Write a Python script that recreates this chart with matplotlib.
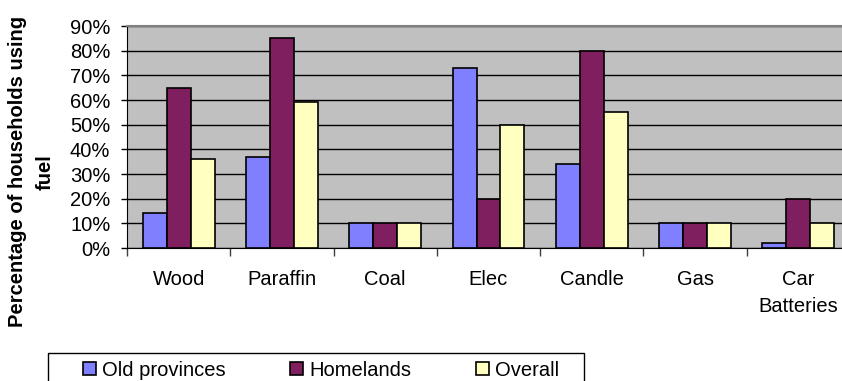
import numpy as np
import matplotlib
matplotlib.use('Agg')
import matplotlib.pyplot as plt
from matplotlib.patches import Rectangle
from matplotlib.ticker import PercentFormatter

plt.rcParams['font.family'] = ['Liberation Sans', 'DejaVu Sans']

fuels = ['Wood', 'Paraffin', 'Coal', 'Elec', 'Candle', 'Gas', 'Car\nBatteries']
old_provinces = [14, 37, 10, 73, 34, 10, 2]
homelands = [65, 85, 10, 20, 80, 10, 20]
overall = [36, 59, 10, 50, 55, 10, 10]

series_names = ['Old provinces', 'Homelands', 'Overall']
series_colors = ['#8080FF', '#7F1F5F', '#FFFFC0']

W, H = 842, 381
fig = plt.figure(figsize=(W / 100, H / 100), dpi=100)
ax = fig.add_axes([127 / W, 1 - 248 / H, 723 / W, 222 / H])
ax.set_facecolor('#C0C0C0')

x = np.arange(len(fuels))
w = 0.232
for i, (vals, name, col) in enumerate(zip([old_provinces, homelands, overall], series_names, series_colors)):
    ax.bar(x + (i - 1) * w, vals, width=w, color=col, edgecolor='black',
           linewidth=1.2, label=name, zorder=3)

ax.set_xlim(-0.5, len(fuels) - 0.5)
ax.set_ylim(0, 90)
ax.set_yticks(np.arange(0, 91, 10))
ax.yaxis.set_major_formatter(PercentFormatter(decimals=0))
ax.yaxis.grid(True, color='black', linewidth=1.0, zorder=1)
ax.set_axisbelow(True)

# category separators as major ticks, names on minor ticks
ax.set_xticks(np.arange(-0.5, len(fuels), 1.0))
ax.set_xticklabels([])
ax.set_xticks(x, minor=True)
ax.set_xticklabels(fuels, minor=True, fontsize=14.5, linespacing=1.55)
ax.tick_params(axis='x', which='major', direction='out', length=6, width=1, color='#404040')
ax.tick_params(axis='x', which='minor', length=0, pad=16)
ax.tick_params(axis='y', direction='out', length=4, width=1, labelsize=14.5, pad=8)

ax.spines['top'].set_color('#808080')
ax.spines['top'].set_linewidth(1.5)
ax.spines['right'].set_visible(False)
ax.spines['left'].set_color('black')
ax.spines['bottom'].set_color('black')

fig.text(18 / W, 1 - 171 / H, 'Percentage of households using', rotation=90,
         ha='center', va='center', fontsize=14.5, fontweight='bold')
fig.text(45 / W, 1 - 172 / H, 'fuel', rotation=90,
         ha='center', va='center', fontsize=14.5, fontweight='bold')

# legend box running off the bottom edge
fig.patches.append(Rectangle((48 / W, -0.05), 536 / W, 0.05 + 1 - 353 / H,
                             transform=fig.transFigure, facecolor='white',
                             edgecolor='black', linewidth=1.0, zorder=1))
leg = fig.legend(loc='center left', bbox_to_anchor=(83 / W, 1 - 370 / H), ncol=3,
                 fontsize=14.5, frameon=False,
                 handlelength=0.65, handleheight=0.65, handletextpad=0.3,
                 columnspacing=3.2, borderpad=0, borderaxespad=0)
leg.set_zorder(2)

fig.savefig('out.png', dpi=100)
